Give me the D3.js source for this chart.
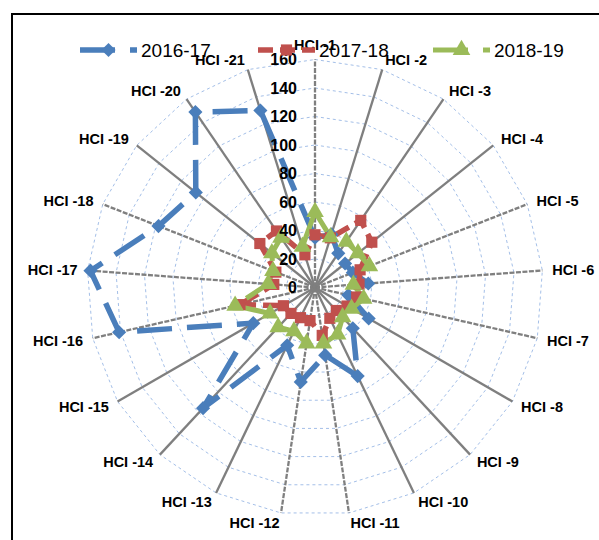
<!DOCTYPE html>
<html><head><meta charset="utf-8">
<script src="https://cdn.jsdelivr.net/npm/d3@7"></script>
<style>html,body{margin:0;padding:0;background:#fff;} svg{display:block;}</style>
</head><body>
<svg id="chart" width="599" height="540"></svg>
<script>
const categories = ["HCI -1","HCI -2","HCI -3","HCI -4","HCI -5","HCI -6","HCI -7","HCI -8","HCI -9","HCI -10","HCI -11","HCI -12","HCI -13","HCI -14","HCI -15","HCI -16","HCI -17","HCI -18","HCI -19","HCI -20","HCI -21"];
const seriesNames = ["2016-17","2017-18","2018-19"];
const values2016 = [35,39,29,27,28.5,37.5,24,43.5,39,69,48,67,45,115.5,50,141,158,118,107,149,130];
const values2017 = [37,36.5,57,51,34,31,30,26,22,24,34,23.5,23.5,24.8,25.6,54,29,29.5,49.5,48,24];
const values2018 = [53,37,39,38.6,41,27,35,29.6,28.5,36.6,39.6,39.6,34,38,36.4,57.5,33,31.7,38.7,42.4,30];
const radialTicks = [0,20,40,60,80,100,120,140,160];
const seriesColors = ["#4a7ebb","#c0504d","#9bbb59"];

const svg = d3.select("#chart");
const cx = 315, cy = 287.5, R = 228;
const rScale = d3.scaleLinear().domain([0,160]).range([0,R]);
const angle = d3.scaleLinear().domain([0, categories.length]).range([0, 2*Math.PI]);
const font = "'Liberation Sans', Arial, sans-serif";

// frame
svg.append("rect").attr("x",12).attr("y",14).attr("width",700).attr("height",700)
  .attr("fill","none").attr("stroke","#000").attr("stroke-width",2);

const g = svg.append("g").attr("transform",`translate(${cx},${cy})`);
const idx = d3.range(categories.length);

// rings
const ringLine = d3.lineRadial().angle(i=>angle(i)).curve(d3.curveLinearClosed);
radialTicks.filter(t=>t>0).forEach(t=>{
  g.append("path").attr("d", ringLine.radius(()=>rScale(t))(idx))
    .attr("fill","none").attr("stroke","#a4bfe8").attr("stroke-width",1)
    .attr("stroke-dasharray","3,3");
});

// spokes
idx.forEach(i=>{
  const a = angle(i), s = Math.sin(a), c = Math.cos(a);
  const dashed = Math.abs(s) < 0.2 || Math.abs(c) < 0.4;
  g.append("line").attr("x1",0).attr("y1",0)
    .attr("x2", rScale(160)*s).attr("y2", -rScale(160)*c)
    .attr("stroke","#7f7f7f").attr("stroke-width",2.3)
    .attr("stroke-dasharray", dashed ? "5,1.5" : null);
});

// category labels
idx.forEach(i=>{
  const a = angle(i), s = Math.sin(a), c = Math.cos(a);
  const rr = rScale(160) + 10;
  let x = rr*s, y = -rr*c;
  let anchor = s > 0.05 ? "start" : (s < -0.05 ? "end" : "middle");
  if (anchor === "middle") y -= 5;
  g.append("text").attr("x",x).attr("y",y).attr("dy","0.35em")
    .attr("text-anchor",anchor).attr("font-family",font).attr("font-weight","bold")
    .attr("font-size","14.5px").attr("fill","#000").text(categories[i]);
});

// series
const symbols = [d3.symbolSquare, d3.symbolSquare, d3.symbolTriangle];
const symSizes = [100, 125, 135];
const symRot = [45, 0, 0];
const dashes = ["35,15","15,7","35,15"];
const widths = [5.5,5.5,5];
const allValues = [values2016, values2017, values2018];
const seriesLine = d3.lineRadial().angle((d,i)=>angle(i)).radius(d=>rScale(d)).curve(d3.curveLinearClosed);
allValues.forEach((vals,k)=>{
  g.append("path").attr("d", seriesLine(vals)).attr("fill","none")
    .attr("stroke",seriesColors[k]).attr("stroke-width",widths[k])
    .attr("stroke-dasharray",dashes[k]);
});
allValues.forEach((vals,k)=>{
  vals.forEach((v,i)=>{
    const a = angle(i);
    const x = rScale(v)*Math.sin(a), y = -rScale(v)*Math.cos(a);
    g.append("path").attr("d", d3.symbol().type(symbols[k]).size(symSizes[k])())
      .attr("transform",`translate(${x},${y}) rotate(${symRot[k]})`)
      .attr("fill",seriesColors[k]);
  });
});

// radial tick labels
radialTicks.forEach(t=>{
  g.append("text").attr("x",-18).attr("y",-rScale(t)).attr("dy","0.35em")
    .attr("text-anchor","end").attr("font-family",font).attr("font-weight","bold")
    .attr("font-size","16px").attr("fill","#000").text(t);
});

// legend
const legendX = [80, 258, 433];
const legendY = 50;
seriesNames.forEach((name,k)=>{
  const lg = svg.append("g");
  lg.append("line").attr("x1",legendX[k]).attr("x2",legendX[k]+57)
    .attr("y1",legendY).attr("y2",legendY)
    .attr("stroke",seriesColors[k]).attr("stroke-width",widths[k])
    .attr("stroke-dasharray",dashes[k]);
  lg.append("path").attr("d", d3.symbol().type(symbols[k]).size(symSizes[k])())
    .attr("transform",`translate(${legendX[k]+28.5},${legendY}) rotate(${symRot[k]})`)
    .attr("fill",seriesColors[k]);
  lg.append("text").attr("x",legendX[k]+61).attr("y",legendY).attr("dy","0.35em")
    .attr("font-family",font).attr("font-size","19px").attr("fill","#000").text(name);
});
</script>
</body></html>
